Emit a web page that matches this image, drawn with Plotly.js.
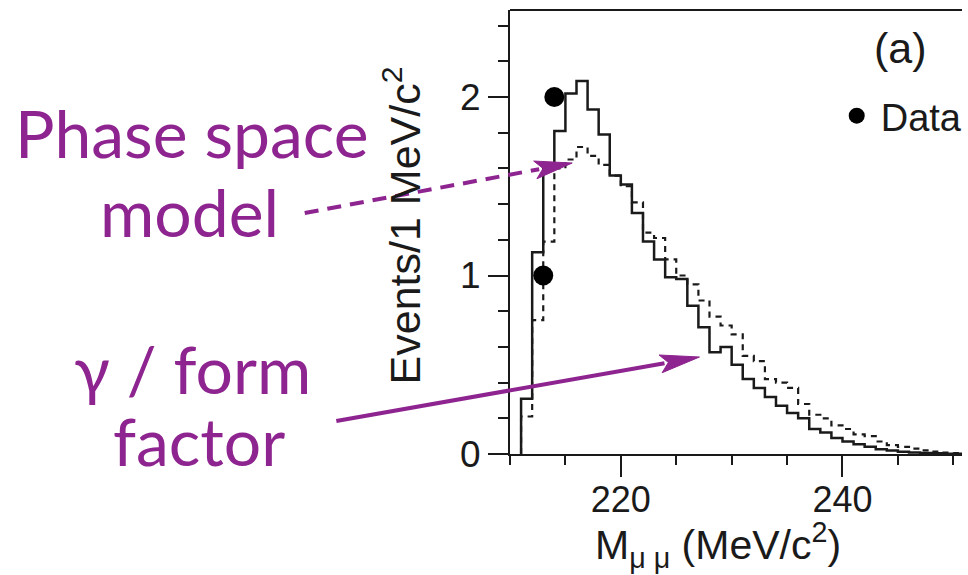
<!DOCTYPE html>
<html>
<head>
<meta charset="utf-8">
<script src="https://cdn.plot.ly/plotly-3.0.1.min.js"></script>
<style>
html,body{margin:0;padding:0;background:#fff;overflow:hidden;}
#chart{width:968px;height:575px;}
</style>
</head>
<body>
<div id="chart"></div>
<script>
// ---- data ----
var binLow = [211,212,213,214,215,216,217,218,219,220,221,222,223,224,225,226,227,228,229,230,
              231,232,233,234,235,236,237,238,239,240,241,242,243,244,245,246,247,248,249,250];
var formFactor = [0.31,1.13,1.60,1.81,2.02,2.09,1.93,1.79,1.56,1.51,1.35,1.19,1.09,0.99,0.98,0.83,0.71,0.57,0.60,0.50,
                  0.42,0.37,0.32,0.27,0.23,0.20,0.14,0.12,0.09,0.07,0.055,0.04,0.026,0.02,0.013,0.009,0.006,0.004,0.002,0.001];
var phaseSpace = [0.21,0.75,1.19,1.60,1.65,1.72,1.67,1.62,1.56,1.50,1.41,1.24,1.21,1.09,1.00,0.95,0.86,0.77,0.72,0.67,
                  0.55,0.52,0.42,0.40,0.37,0.28,0.22,0.20,0.16,0.14,0.11,0.10,0.07,0.05,0.04,0.03,0.02,0.013,0.008,0.005];
var dataX = [213, 214];
var dataY = [1, 2];
var binWidth = 1;
var xTickVals = [220, 240];
var yTickVals = [0, 1, 2];

function stepXY(low, vals){
  var xs = [low[0]], ys = [0];
  for (var i = 0; i < low.length; i++){ xs.push(low[i]); ys.push(vals[i]); }
  xs.push(low[low.length-1] + binWidth); ys.push(vals[vals.length-1]);
  return {x: xs, y: ys};
}
var ff = stepXY(binLow, formFactor);
var ps = stepXY(binLow, phaseSpace);

var ink = '#1a1a1a';
var purple = '#8e248f';
var font = 'Liberation Sans, Arial, Helvetica, sans-serif';
var handFont = 'Lato, Noto Sans, sans-serif';

var traces = [
  {x: ps.x, y: ps.y, type: 'scatter', mode: 'lines', name: 'Phase space model', line: {shape: 'hv', color: ink, width: 2.2, dash: '6px,5px'}, showlegend: false, hoverinfo: 'skip'},
  {x: ff.x, y: ff.y, type: 'scatter', mode: 'lines', name: 'γ / form factor', line: {shape: 'hv', color: ink, width: 2.5}, showlegend: false, hoverinfo: 'skip'},
  {x: dataX, y: dataY, type: 'scatter', mode: 'markers', name: 'Data', marker: {color: '#000', size: 20}, showlegend: true}
];

// pixel -> paper helpers for the hand-drawn annotation arrows
var L = 510, R = 968, T = 10, B = 454;
function px(x){ return (x - L) / (R - L); }
function py(y){ return (B - y) / (B - T); }
function arrow(tail, tip, headLen, headHalf, dash){
  var dx = tip[0]-tail[0], dy = tip[1]-tail[1], len = Math.sqrt(dx*dx+dy*dy);
  var ux = dx/len, uy = dy/len, nx = -uy, ny = ux;
  var bx = tip[0]-ux*headLen, by = tip[1]-uy*headLen;
  var shapes = [];
  shapes.push({type:'line', xref:'paper', yref:'paper', x0:px(tail[0]), y0:py(tail[1]), x1:px(bx+ux*4), y1:py(by+uy*4),
               line:{color:purple, width:4, dash: dash}});
  var p1 = [bx+nx*headHalf, by+ny*headHalf], p2 = [bx-nx*headHalf, by-ny*headHalf];
  shapes.push({type:'path', xref:'paper', yref:'paper',
    path:'M '+px(tip[0])+' '+py(tip[1])+' L '+px(p1[0])+' '+py(p1[1])+' L '+px(bx+ux*8)+' '+py(by+uy*8)+' L '+px(p2[0])+' '+py(p2[1])+' Z',
    fillcolor:purple, line:{color:purple, width:1}});
  return shapes;
}

var shapes = [
  {type:'line', xref:'paper', yref:'paper', x0:0, x1:1, y0:1, y1:1, line:{color:ink, width:2}}
].concat(arrow([302,213],[573,163],38,9,'14px,9px'))
 .concat(arrow([334,421],[702,357],40,9,'solid'));

function label(text, cx, cy, size, color, fam, extra){
  var a = {xref:'paper', yref:'paper', x:px(cx), y:py(cy), xanchor:'center', yanchor:'middle',
           text:text, showarrow:false, font:{size:size, family:fam, color:color}};
  for (var k in (extra||{})) a[k] = extra[k];
  return a;
}

var layout = {
  width: 968, height: 575,
  margin: {l: L, r: 968-R, t: T, b: 575-B, pad: 0},
  paper_bgcolor: '#fff', plot_bgcolor: '#fff',
  font: {family: font, color: ink, size: 36},
  showlegend: true,
  legend: {x: px(837), y: py(116), xanchor: 'left', yanchor: 'middle', bgcolor: 'rgba(0,0,0,0)',
           font: {size: 38, family: font, color: ink}, itemwidth: 38},
  xaxis: {
    range: [210, 210 + (R-L)/11.23], showline: true, linecolor: ink, linewidth: 2, mirror: false,
    showgrid: false, zeroline: false,
    tickmode: 'array', tickvals: xTickVals, ticktext: xTickVals.map(String),
    ticks: 'outside', ticklen: 21, tickwidth: 2, tickcolor: ink, ticklabelstandoff: -8,
    minor: {dtick: 5, tick0: 210, ticks: 'outside', ticklen: 9, tickwidth: 2, tickcolor: ink, showgrid: false},
    tickfont: {size: 36, family: font, color: ink}
  },
  yaxis: {
    range: [0, (B-T)/178.5], showline: true, linecolor: ink, linewidth: 2,
    showgrid: false, zeroline: false,
    tickmode: 'array', tickvals: yTickVals, ticktext: yTickVals.map(String),
    ticks: 'outside', ticklen: 20, tickwidth: 2, tickcolor: ink,
    minor: {dtick: 0.2, tick0: 0, ticks: 'outside', ticklen: 10, tickwidth: 2, tickcolor: ink, showgrid: false},
    tickfont: {size: 37, family: font, color: ink}
  },
  shapes: shapes,
  annotations: [
    label('M<sub>μ μ</sub> (MeV/c<sup>2</sup>)', 721, 545, 41, ink, font),
    label('Events/1 MeV/c<sup>2</sup>', 401, 225, 43, ink, font, {textangle: -90}),
    label('(a)', 906, 48, 43, ink, font),
    label('Phase space', 188, 133, 66, purple, handFont),
    label('model', 185, 211, 66, purple, handFont),
    label('γ / form', 188, 368, 66, purple, handFont),
    label('factor', 195, 440, 66, purple, handFont)
  ]
};

Plotly.newPlot('chart', traces, layout, {displayModeBar: false, staticPlot: true});
</script>
</body>
</html>
